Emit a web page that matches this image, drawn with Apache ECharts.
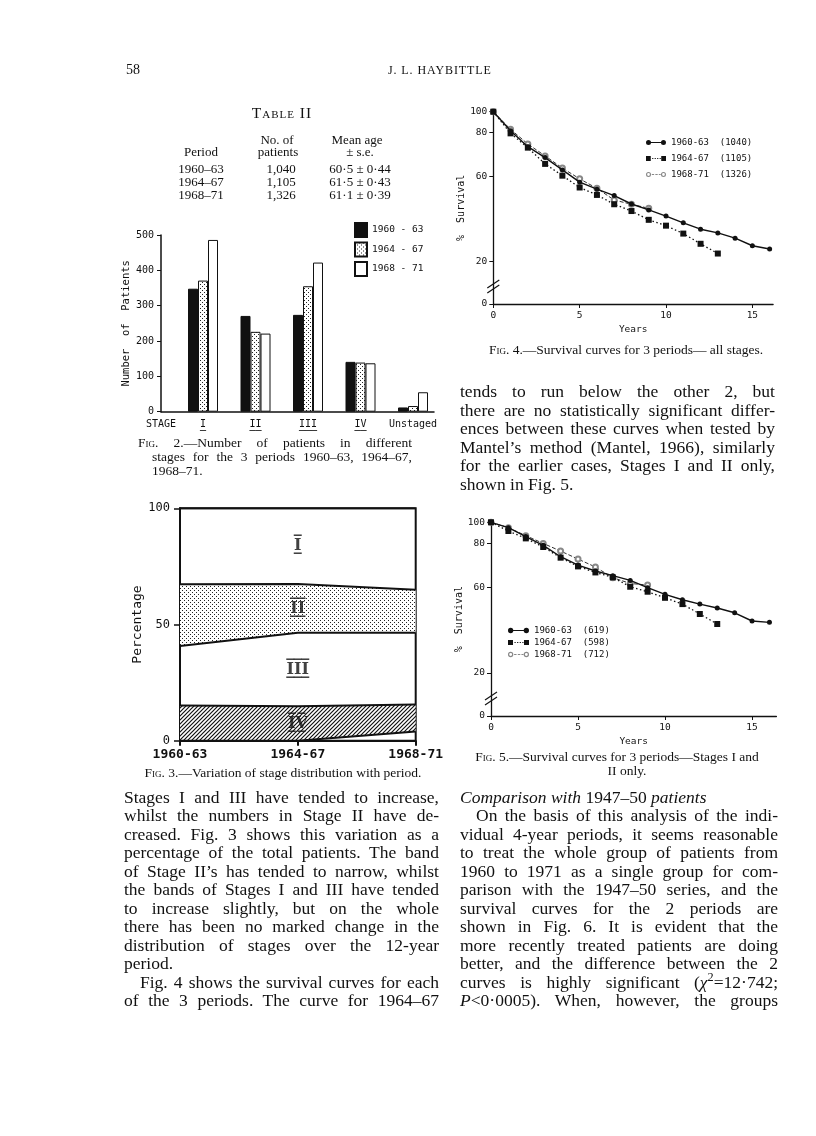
<!DOCTYPE html>
<html>
<head>
<meta charset="utf-8">
<script src="https://cdn.jsdelivr.net/npm/echarts@6/dist/echarts.min.js"></script>
<style>
html,body{margin:0;padding:0;background:#fff;}
#page{position:relative;width:816px;height:1136px;overflow:hidden;background:#fff;}
#chart{position:absolute;left:0;top:0;width:816px;height:1136px;}
.t{position:absolute;font-family:"Liberation Serif","DejaVu Serif",serif;color:#111;white-space:nowrap;line-height:18px;height:18px;}
.c{text-align:center;}
.sc{font-variant:small-caps;}
sup{vertical-align:super;line-height:0;font-size:70%;}
</style>
</head>
<body>
<div id="page"><div id="chart"></div></div>
<script type="text/javascript">
	// Table II
	var tablePeriods = ['1960–63', '1964–67', '1968–71'];
	var tableCounts = ['1,040', '1,105', '1,326'];
	var tableMeanAge = ['60·5 ± 0·44', '61·5 ± 0·43', '61·1 ± 0·39'];

	// Fig. 2 - number of patients by stage
	var stageNames = ['I', 'II', 'III', 'IV', 'Unstaged'];
	var stagePos = [0, 1, 2, 3, 4];
	var periodNames = ['1960 - 63', '1964 - 67', '1968 - 71'];
	var patients6063 = [348, 271, 274, 141, 12];
	var patients6467 = [371, 226, 355, 139, 16];
	var patients6871 = [486, 221, 422, 137, 55];

	// Fig. 3 - stage distribution (%)
	var periods = ['1960-63', '1964-67', '1968-71'];
	var pctUnstaged = [0, 0, 4];
	var pctIV = [15.1, 14.8, 11.6];
	var pctIII = [25.6, 31.7, 30.9];
	var pctII = [26.6, 20.9, 18.5];
	var pctI = [32.7, 32.6, 35.0];

	// Fig. 4 / Fig. 5 - survival (%)
	var years = [0, 1, 2, 3, 4, 5, 6, 7, 8, 9, 10, 11, 12, 13, 14, 15, 16];
	var survTicks = [12.6, 20, 50, 80, 100];
	var survTickText = ['0', '20', '60', '80', '100'];
	var fig4Names = ['1960-63  (1040)', '1964-67  (1105)', '1968-71  (1326)'];
	var fig4_6063 = [100, 81.5, 68.6, 61.0, 53.4, 46.8, 43.4, 40.5, 37.0, 34.7, 32.5, 30.2, 28.2, 27.1, 25.6, 23.6, 22.8];
	var fig4_6467 = [100, 79.2, 67.9, 57.0, 50.2, 44.2, 40.8, 36.9, 34.3, 31.2, 29.3, 26.9, 24.1, 21.7];
	var fig4_6871 = [100, 82.7, 70.6, 62.1, 54.5, 48.5, 43.8, 38.6, 36.9, 35.3];
	var fig5Names = ['1960-63  (619)', '1964-67  (598)', '1968-71  (712)'];
	var fig5_6063 = [100, 94.4, 85.8, 78.2, 69.2, 63.3, 59.4, 56.5, 53.7, 49.7, 46.3, 43.7, 41.7, 40.0, 38.0, 34.8, 34.3];
	var fig5_6467 = [100, 91.1, 84.2, 76.8, 68.5, 62.4, 58.5, 55.5, 50.2, 47.6, 44.6, 41.7, 37.5, 33.7];
	var fig5_6871 = [100, 94.4, 86.7, 79.8, 73.5, 67.5, 62.0, 55.3, 52.0, 51.1];
	var breakAt = 15.2;

	var ink = '#111';
	var mono = 'DejaVu Sans Mono';

	//---------------- page text ----------------
	var page = document.getElementById('page');
	// x,y = left / middle of line; w = width (justify when just=true)
	function put(html, x, y, w, opt){
		opt = opt || {};
		var d = document.createElement('div');
		d.className = 't ' + (opt.cls || '');
		d.style.left = x + 'px';
		d.style.top = (y - 9) + 'px';
		if(w) d.style.width = w + 'px';
		d.style.fontSize = (opt.size || 15) + 'px';
		if(opt.ls) d.style.letterSpacing = opt.ls + 'px';
		var sp = document.createElement('span');
		sp.innerHTML = html;
		d.appendChild(sp);
		page.appendChild(d);
		if(opt.just && w){
			var nat = sp.getBoundingClientRect().width;
			var gaps = (sp.textContent.match(/ /g) || []).length;
			if(nat > w){
				sp.style.display = 'inline-block';
				sp.style.transformOrigin = '0 50%';
				sp.style.transform = 'scaleX(' + (w / nat) + ')';
			}else if(gaps){
				d.style.wordSpacing = ((w - nat) / gaps) + 'px';
			}
		}
	}
	function block(lines, x, y0, w, step, size){
		lines.forEach(function(l, i){
			var ind = l.indent || 0;
			put(l.t, x + ind, y0 + i * step, w - ind, {size:size, just:!l.last});
		});
	}

	put('58', 126, 70, 0, {size:14});
	put('J. L. HAYBITTLE', 388, 70, 0, {size:12, ls:0.9});

	put('Table II', 232, 113, 100, {cls:'c sc', size:15.5, ls:1});
	put('No. of', 237, 139.5, 80, {cls:'c', size:13});
	put('Mean age', 317, 139.5, 80, {cls:'c', size:13});
	put('Period', 161, 152, 80, {cls:'c', size:13});
	put('patients', 238, 152, 80, {cls:'c', size:13});
	put('± s.e.', 320, 152, 80, {cls:'c', size:13});
	tablePeriods.forEach(function(p, i){
		var y = 169 + i * 13;
		put(p, 161, y, 80, {cls:'c', size:13});
		put(tableCounts[i], 241, y, 80, {cls:'c', size:13});
		put(tableMeanAge[i], 310, y, 100, {cls:'c', size:13});
	});

	// captions
	put('F<span class="sc">ig</span>. 2.—Number of patients in different', 138, 443, 274, {size:13.5, just:true});
	put('stages for the 3 periods 1960–63, 1964–67,', 152, 457, 260, {size:13.5, just:true});
	put('1968–71.', 152, 471, 0, {size:13.5});
	put('F<span class="sc">ig</span>. 3.—Variation of stage distribution with period.', 123, 773, 320, {cls:'c', size:13.5});
	put('F<span class="sc">ig</span>. 4.—Survival curves for 3 periods— all stages.', 466, 350, 320, {cls:'c', size:13.5});
	put('F<span class="sc">ig</span>. 5.—Survival curves for 3 periods—Stages I and', 457, 757, 320, {cls:'c', size:13.5});
	put('II only.', 467, 771, 320, {cls:'c', size:13.5});

	block([
		{t:'tends to run below the other 2, but'},
		{t:'there are no statistically significant differ-'},
		{t:'ences between these curves when tested by'},
		{t:'Mantel’s method (Mantel, 1966), similarly'},
		{t:'for the earlier cases, Stages I and II only,'},
		{t:'shown in Fig. 5.', last:true}
	], 460, 391, 315, 18.5, 17.5);

	block([
		{t:'Stages I and III have tended to increase,'},
		{t:'whilst the numbers in Stage II have de-'},
		{t:'creased. Fig. 3 shows this variation as a'},
		{t:'percentage of the total patients. The band'},
		{t:'of Stage II’s has tended to narrow, whilst'},
		{t:'the bands of Stages I and III have tended'},
		{t:'to increase slightly, but on the whole'},
		{t:'there has been no marked change in the'},
		{t:'distribution of stages over the 12-year'},
		{t:'period.', last:true},
		{t:'Fig. 4 shows the survival curves for each', indent:16},
		{t:'of the 3 periods. The curve for 1964–67'}
	], 124, 797, 315, 18.45, 17.5);

	block([
		{t:'<i>Comparison with</i> 1947–50 <i>patients</i>', last:true},
		{t:'On the basis of this analysis of the indi-', indent:16},
		{t:'vidual 4-year periods, it seems reasonable'},
		{t:'to treat the whole group of patients from'},
		{t:'1960 to 1971 as a single group for com-'},
		{t:'parison with the 1947–50 series, and the'},
		{t:'survival curves for the 2 periods are'},
		{t:'shown in Fig. 6. It is evident that the'},
		{t:'more recently treated patients are doing'},
		{t:'better, and the difference between the 2'},
		{t:'curves is highly significant (<i>χ</i><sup>2</sup>=12·742;'},
		{t:'<i>P</i>&lt;0·0005). When, however, the groups'}
	], 460, 797, 318, 18.45, 17.5);

	//---------------- fills ----------------
	function dotPattern(){
		var c = document.createElement('canvas');
		c.width = 4; c.height = 4;
		var g = c.getContext('2d');
		g.fillStyle = '#fff'; g.fillRect(0, 0, 4, 4);
		g.fillStyle = '#222';
		g.fillRect(0, 0, 1, 1); g.fillRect(2, 2, 1, 1);
		return {image: c, repeat: 'repeat'};
	}
	function hatchPattern(){
		var c = document.createElement('canvas');
		c.width = 4; c.height = 4;
		var g = c.getContext('2d');
		g.fillStyle = '#fff'; g.fillRect(0, 0, 4, 4);
		g.strokeStyle = '#111'; g.lineWidth = 1.2;
		g.beginPath();
		g.moveTo(0, 4); g.lineTo(4, 0);
		g.moveTo(-1, 1); g.lineTo(1, -1);
		g.moveTo(3, 5); g.lineTo(5, 3);
		g.stroke();
		return {image: c, repeat: 'repeat'};
	}
	var dots = dotPattern();
	var hatch = hatchPattern();

	function nearest(list, v){
		var best = 0;
		list.forEach(function(t, i){ if(Math.abs(t - v) < Math.abs(list[best] - v)) best = i; });
		return best;
	}
	function withBars(s){ return s.split('').map(function(ch){ return ch + '\u0305\u0332'; }).join(''); }

	// legend icons: marker - line - marker
	var iconSolid = 'path://M0.3,3 A2.7,2.7 0 1 1 5.7,3 A2.7,2.7 0 1 1 0.3,3 Z M5,2.4 L17,2.4 L17,3.6 L5,3.6 Z M16.3,3 A2.7,2.7 0 1 1 21.7,3 A2.7,2.7 0 1 1 16.3,3 Z';
	var iconDotted = 'path://M0.5,0.5 L5.5,0.5 L5.5,5.5 L0.5,5.5 Z M7,2.4 L8.2,2.4 L8.2,3.6 L7,3.6 Z M9.6,2.4 L10.8,2.4 L10.8,3.6 L9.6,3.6 Z M12.2,2.4 L13.4,2.4 L13.4,3.6 L12.2,3.6 Z M14.8,2.4 L16,2.4 L16,3.6 L14.8,3.6 Z M16.5,0.5 L21.5,0.5 L21.5,5.5 L16.5,5.5 Z';
	var iconDashed = 'path://M0.3,3 A2.7,2.7 0 1 1 5.7,3 A2.7,2.7 0 1 1 0.3,3 Z M1.5,3 A1.5,1.5 0 1 0 4.5,3 A1.5,1.5 0 1 0 1.5,3 Z M6.5,2.5 L9,2.5 L9,3.5 L6.5,3.5 Z M10.3,2.5 L12.8,2.5 L12.8,3.5 L10.3,3.5 Z M14,2.5 L16,2.5 L16,3.5 L14,3.5 Z M16.3,3 A2.7,2.7 0 1 1 21.7,3 A2.7,2.7 0 1 1 16.3,3 Z M17.5,3 A1.5,1.5 0 1 0 20.5,3 A1.5,1.5 0 1 0 17.5,3 Z';
	var survIcons = [iconSolid, iconDotted, iconDashed];

	var survStyles = [
		{lineStyle:{color:ink, width:1.4, type:'solid'}, symbol:'circle', symbolSize:5, itemStyle:{color:ink}},
		{lineStyle:{color:ink, width:1.3, type:[1.5, 2.5]}, symbol:'rect', symbolSize:6, itemStyle:{color:ink}},
		{lineStyle:{color:'#333', width:1, type:[4, 2]}, symbol:'emptyCircle', symbolSize:5, itemStyle:{color:'#888', borderWidth:1}}
	];

	function survSeries(names, lists, axis){
		return names.map(function(name, k){
			var st = survStyles[k];
			return {
				type:'line', name:name, xAxisIndex:axis, yAxisIndex:axis,
				data: lists[k].map(function(v, i){ return [years[i], v]; }),
				lineStyle: st.lineStyle, symbol: st.symbol, symbolSize: st.symbolSize,
				itemStyle: st.itemStyle, showAllSymbol:true, z: 3 - k
			};
		});
	}

	function survXAxis(grid, max){
		return {
			gridIndex:grid, type:'value', min:0, max:max,
			name:'Years', nameLocation:'middle', nameGap:21,
			nameTextStyle:{fontFamily:mono, fontSize:9.5, color:ink},
			axisLine:{show:true, onZero:false, lineStyle:{color:ink, width:1.3}},
			axisTick:{show:true, customValues:[0, 5, 10, 15], length:4, lineStyle:{color:ink}},
			axisLabel:{customValues:[0, 5, 10, 15], fontFamily:mono, fontSize:9.5, color:ink, margin:7},
			splitLine:{show:false}
		};
	}
	function survYAxis(grid){
		return {
			gridIndex:grid, type:'log', logBase:10, min:survTicks[0], max:100,
			name:'%  Survival', nameLocation:'middle', nameRotate:90, nameGap:22,
			nameTextStyle:{fontFamily:mono, fontSize:10, color:ink},
			axisLine:{show:true, onZero:false, lineStyle:{color:ink, width:1.3}},
			axisTick:{show:true, customValues:survTicks, length:4, lineStyle:{color:ink}},
			axisLabel:{customValues:survTicks, fontFamily:mono, fontSize:9.5, color:ink, margin:6,
				formatter:function(v){ return survTickText[nearest(survTicks, v)]; }},
			splitLine:{show:false}
		};
	}

	//---------------- fig 3 band labels ----------------
	var bandOrder = [pctUnstaged, pctIV, pctIII, pctII, pctI];
	var romanNames = [null, 'IV', 'III', 'II', 'I'];
	var bandLabels = [];
	var acc = 0;
	bandOrder.forEach(function(arr, k){
		var lo = acc;
		acc += arr[1];
		if(romanNames[k]) bandLabels.push({name: withBars(romanNames[k]), value:[1, (lo + acc) / 2]});
	});
	var bandFills = [null, hatch, null, dots, null];

	var barFills = [ink, dots, '#fff'];
	var barData = [patients6063, patients6467, patients6871];

	var myChart = echarts.init(document.getElementById('chart'));
	var option = {
		animation:false,
		backgroundColor:'transparent',
		textStyle:{fontFamily:mono, color:ink},
		grid:[
			{left:161, top:235, width:273, height:176.7},
			{left:180, top:508.3, width:235.7, height:232.4, show:true, borderColor:ink, borderWidth:2, backgroundColor:'transparent'},
			{left:493.3, top:111.7, width:279.8, height:192.3},
			{left:491, top:522.3, width:285.4, height:193.7}
		],
		legend:[
			{left:354, top:222, padding:0, orient:'vertical', itemWidth:12, itemHeight:14, itemGap:3.5, selectedMode:false, icon:'rect',
				data:periodNames, textStyle:{fontFamily:mono, fontSize:9.5, color:ink}},
			{left:646, top:138, padding:0, orient:'vertical', itemWidth:20, itemHeight:6, itemGap:7, selectedMode:false,
				itemStyle:{borderWidth:0},
				data:fig4Names.map(function(n, k){ return {name:n, icon:survIcons[k]}; }),
				textStyle:{fontFamily:mono, fontSize:9, color:ink}},
			{left:508, top:626, padding:0, orient:'vertical', itemWidth:21, itemHeight:6, itemGap:3, selectedMode:false,
				itemStyle:{borderWidth:0},
				data:fig5Names.map(function(n, k){ return {name:n, icon:survIcons[k]}; }),
				textStyle:{fontFamily:mono, fontSize:9, color:ink}}
		],
		xAxis:[
			{gridIndex:0, type:'value', min:-0.8, max:4.4,
				axisLine:{show:true, onZero:false, lineStyle:{color:ink, width:1.5}},
				axisTick:{show:false}, splitLine:{show:false},
				axisLabel:{customValues:[-0.8].concat(stagePos), color:ink, margin:7,
					formatter:function(v){
						if(v < -0.5) return '{t|STAGE}';
						var n = stageNames[nearest(stagePos, v)];
						if(n === 'Unstaged') return '{t|' + n + '}';
						return '{t|' + n + '}\n{u|' + n.replace(/./g, '─') + '}';
					},
					rich:{
						t:{fontFamily:mono, fontSize:10, lineHeight:11, color:ink},
						u:{fontFamily:mono, fontSize:10, lineHeight:4, color:ink}
					}}},
			{gridIndex:1, type:'category', data:periods, boundaryGap:false,
				axisLine:{show:true, onZero:false, lineStyle:{color:ink, width:2}},
				axisTick:{show:true, length:5, lineStyle:{color:ink, width:2}},
				axisLabel:{fontFamily:mono, fontSize:13, fontWeight:'bold', color:ink, margin:7},
				splitLine:{show:false}},
			survXAxis(2, 16.2),
			survXAxis(3, 16.4)
		],
		yAxis:[
			{gridIndex:0, type:'value', min:0, max:500, interval:100,
				name:'Number  of  Patients', nameLocation:'middle', nameRotate:90, nameGap:21,
				nameTextStyle:{fontFamily:mono, fontSize:10.5, color:ink},
				axisLine:{show:true, onZero:false, lineStyle:{color:ink, width:1.5}},
				axisTick:{show:true, length:4, lineStyle:{color:ink}},
				axisLabel:{fontFamily:mono, fontSize:10, color:ink, margin:7},
				splitLine:{show:false}},
			{gridIndex:1, type:'value', min:0, max:100, interval:50,
				name:'Percentage', nameLocation:'middle', nameRotate:90, nameGap:36,
				nameTextStyle:{fontFamily:mono, fontSize:13, color:ink},
				axisLine:{show:true, onZero:false, lineStyle:{color:ink, width:2}},
				axisTick:{show:true, length:6, lineStyle:{color:ink, width:1.5}},
				axisLabel:{fontFamily:mono, fontSize:12, color:ink, margin:10},
				splitLine:{show:false}},
			survYAxis(2),
			survYAxis(3)
		],
		series: []
	};

	// fig 2 bars
	periodNames.forEach(function(name, k){
		option.series.push({
			type:'bar', name:name, xAxisIndex:0, yAxisIndex:0,
			barWidth:10, barGap:'0%',
			data: stagePos.map(function(p, i){ return [p, barData[k][i]]; }),
			itemStyle:{color:barFills[k], borderColor:ink, borderWidth:1}
		});
	});

	// fig 3 stacked bands
	bandOrder.forEach(function(arr, k){
		var s = {
			type:'line', name:'band' + k, xAxisIndex:1, yAxisIndex:1, stack:'pct',
			data:arr, symbol:'none', lineStyle:{color:ink, width:2}, z:2
		};
		if(bandFills[k]) s.areaStyle = {color:bandFills[k], opacity:1};
		option.series.push(s);
	});
	option.series.push({
		type:'scatter', xAxisIndex:1, yAxisIndex:1, symbolSize:0, data:bandLabels, z:5,
		label:{show:true, position:'inside', formatter:'{b}', fontFamily:'DejaVu Serif', fontWeight:'bold', fontSize:16, color:ink}
	});

	// fig 4 and fig 5 survival curves
	option.series = option.series
		.concat(survSeries(fig4Names, [fig4_6063, fig4_6467, fig4_6871], 2))
		.concat(survSeries(fig5Names, [fig5_6063, fig5_6467, fig5_6871], 3));

	myChart.setOption(option);

	// axis break marks on the survival axes
	var marks = [];
	[2, 3].forEach(function(ai){
		var p = myChart.convertToPixel({xAxisIndex:ai, yAxisIndex:ai}, [0, breakAt]);
		[-2.5, 2.5].forEach(function(dy){
			marks.push({type:'line', z:10, shape:{x1:p[0] - 6, y1:p[1] + dy + 4, x2:p[0] + 6, y2:p[1] + dy - 4},
				style:{stroke:ink, lineWidth:1.2}});
		});
	});
	myChart.setOption({graphic:marks});
</script>
</body>
</html>
